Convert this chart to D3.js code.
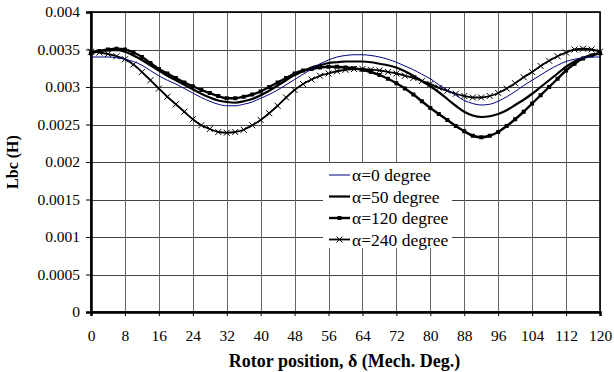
<!DOCTYPE html>
<html>
<head>
<meta charset="utf-8">
<script src="https://cdn.jsdelivr.net/npm/d3@7"></script>
<style>
  body { margin: 0; background: #fff; }
</style>
</head>
<body>
<script>
// rotor position, every 2 mech. degrees
const positions = d3.range(0, 121, 2)

const alpha0 = [
  0.00340, 0.00340, 0.00340, 0.00339, 0.00337, 0.00334, 0.00329, 0.00322, 0.00315, 0.00309,
  0.00304, 0.00298, 0.00292, 0.00286, 0.00281, 0.00277, 0.00275, 0.00275, 0.00277, 0.00280,
  0.00285, 0.00290, 0.00296, 0.00303, 0.00310, 0.00317, 0.00324, 0.00331, 0.00336, 0.00340,
  0.00342, 0.00343, 0.00343, 0.00342, 0.00340, 0.00337, 0.00333, 0.00328, 0.00323, 0.00317,
  0.00311, 0.00303, 0.00296, 0.00289, 0.00282, 0.00278, 0.00276, 0.00277, 0.00281, 0.00287,
  0.00294, 0.00302, 0.00309, 0.00316, 0.00323, 0.00329, 0.00334, 0.00337, 0.00339, 0.00340,
  0.00340
]
const alpha50 = [
  0.00346, 0.00348, 0.00349, 0.00349, 0.00347, 0.00342, 0.00336, 0.00329, 0.00322, 0.00315,
  0.00309, 0.00303, 0.00297, 0.00291, 0.00286, 0.00282, 0.00280, 0.00279, 0.00281, 0.00284,
  0.00289, 0.00295, 0.00302, 0.00309, 0.00316, 0.00321, 0.00326, 0.00329, 0.00332, 0.00333,
  0.00334, 0.00334, 0.00334, 0.00333, 0.00331, 0.00329, 0.00326, 0.00321, 0.00315, 0.00308,
  0.00301, 0.00293, 0.00284, 0.00275, 0.00267, 0.00262, 0.00260, 0.00261, 0.00264, 0.00269,
  0.00276, 0.00283, 0.00291, 0.00300, 0.00309, 0.00318, 0.00327, 0.00334, 0.00339, 0.00343,
  0.00345
]
const alpha120 = [
  0.00345, 0.00348, 0.00350, 0.00351, 0.00350, 0.00346, 0.00340, 0.00332, 0.00324, 0.00318,
  0.00312, 0.00306, 0.00301, 0.00296, 0.00292, 0.00288, 0.00285, 0.00285, 0.00287, 0.00290,
  0.00294, 0.00300, 0.00306, 0.00312, 0.00318, 0.00322, 0.00324, 0.00326, 0.00327, 0.00327,
  0.00326, 0.00325, 0.00323, 0.00320, 0.00316, 0.00311, 0.00305, 0.00298, 0.00290, 0.00281,
  0.00272, 0.00264, 0.00256, 0.00248, 0.00241, 0.00235, 0.00233, 0.00235, 0.00240, 0.00248,
  0.00257, 0.00267, 0.00278, 0.00289, 0.00300, 0.00311, 0.00322, 0.00331, 0.00338, 0.00342,
  0.00345
]
const alpha240 = [
  0.00347, 0.00346, 0.00344, 0.00341, 0.00337, 0.00330, 0.00320, 0.00309, 0.00298, 0.00287,
  0.00277, 0.00267, 0.00257, 0.00249, 0.00244, 0.00240, 0.00239, 0.00240, 0.00243, 0.00249,
  0.00256, 0.00265, 0.00275, 0.00286, 0.00296, 0.00304, 0.00310, 0.00315, 0.00318, 0.00321,
  0.00323, 0.00324, 0.00324, 0.00323, 0.00322, 0.00320, 0.00318, 0.00315, 0.00312, 0.00308,
  0.00304, 0.00299, 0.00295, 0.00291, 0.00288, 0.00286, 0.00286, 0.00288, 0.00292, 0.00298,
  0.00305, 0.00313, 0.00320, 0.00328, 0.00335, 0.00341, 0.00346, 0.00350, 0.00351, 0.00350,
  0.00347
]

const seriesNames = ['α=0 degree', 'α=50 degree', 'α=120 degree', 'α=240 degree']
const xTicks = d3.range(0, 121, 8)
const yTicks = [0, 0.0005, 0.001, 0.0015, 0.002, 0.0025, 0.003, 0.0035, 0.004]

const series = [
  { name: seriesNames[0], values: alpha0, color: '#000080', width: 1, marker: null },
  { name: seriesNames[1], values: alpha50, color: '#000', width: 2.2, marker: null },
  { name: seriesNames[2], values: alpha120, color: '#000', width: 2.4, marker: 'square' },
  { name: seriesNames[3], values: alpha240, color: '#000', width: 1.8, marker: 'cross' }
]

const fontStack = '"Liberation Serif", "Times New Roman", Times, "DejaVu Serif", serif'

const outerWidth = 614
const outerHeight = 372
const margin = { left: 91, top: 12, right: 14, bottom: 60 }
const innerWidth = outerWidth - margin.left - margin.right
const innerHeight = outerHeight - margin.top - margin.bottom

const svg = d3.select('body')
  .append('svg')
  .attr('width', outerWidth)
  .attr('height', outerHeight)
  .attr('font-family', fontStack)

const g = svg.append('g')
  .attr('transform', `translate(${margin.left},${margin.top})`)

const xScale = d3.scaleLinear().domain([0, 120]).range([0, innerWidth])
const yScale = d3.scaleLinear().domain([0, 0.004]).range([innerHeight, 0])

// grid
g.append('g')
  .selectAll('line')
  .data(yTicks)
  .join('line')
  .attr('x1', 0)
  .attr('x2', innerWidth)
  .attr('y1', d => Math.round(yScale(d)) + 0.5)
  .attr('y2', d => Math.round(yScale(d)) + 0.5)
  .style('stroke', '#444')
  .style('stroke-width', 1)

g.append('g')
  .selectAll('line')
  .data(xTicks)
  .join('line')
  .attr('x1', d => Math.round(xScale(d)) + 0.5)
  .attr('x2', d => Math.round(xScale(d)) + 0.5)
  .attr('y1', 0)
  .attr('y2', innerHeight)
  .style('stroke', '#666')
  .style('stroke-width', 1)

// legend background sits over the grid
const legendX = 232
const legendY = 151
g.append('rect')
  .attr('x', legendX)
  .attr('y', legendY)
  .attr('width', 129)
  .attr('height', 85)
  .style('fill', '#fff')

// border
g.append('rect')
  .attr('x', 0)
  .attr('y', 0)
  .attr('width', innerWidth)
  .attr('height', innerHeight)
  .style('fill', 'none')
  .style('stroke', '#000')
  .style('stroke-width', 1.6)

// axes
const xAxis = d3.axisBottom(xScale).tickValues(xTicks).tickSize(4).tickPadding(14)
const yAxis = d3.axisLeft(yScale).tickValues(yTicks).tickSize(5).tickPadding(6)
  .tickFormat(d => d === 0 ? '0' : String(+d.toFixed(4)))

const xAxisG = g.append('g')
  .attr('transform', `translate(0,${innerHeight})`)
  .call(xAxis)
const yAxisG = g.append('g').call(yAxis)

;[xAxisG, yAxisG].forEach(a => {
  a.attr('font-family', fontStack).attr('font-size', 15.5)
  a.select('.domain').style('stroke', '#000').style('stroke-width', 2.5)
  a.selectAll('.tick line').style('stroke', '#000')
  a.selectAll('.tick text').style('fill', '#000')
})

// axis titles
g.append('text')
  .attr('x', innerWidth / 2 - 1)
  .attr('y', innerHeight + 55)
  .attr('text-anchor', 'middle')
  .attr('font-size', 18)
  .attr('font-weight', 'bold')
  .text('Rotor position, δ (Mech. Deg.)')

svg.append('text')
  .attr('transform', 'translate(18,162) rotate(-90)')
  .attr('text-anchor', 'middle')
  .attr('font-size', 16)
  .attr('font-weight', 'bold')
  .text('Lbc (H)')

// lines
const line = d3.line()
  .x((d, i) => xScale(positions[i]))
  .y(d => yScale(d))
  .curve(d3.curveMonotoneX)

const crossPath = 'M-3,-3L3,3M-3,3L3,-3'

function drawMarkers(sel, marker, pts) {
  if (marker === 'square') {
    sel.selectAll('rect')
      .data(pts)
      .join('rect')
      .attr('x', d => d[0] - 2)
      .attr('y', d => d[1] - 2)
      .attr('width', 4)
      .attr('height', 4)
      .style('fill', '#000')
  } else if (marker === 'cross') {
    sel.selectAll('path')
      .data(pts)
      .join('path')
      .attr('transform', d => `translate(${d[0]},${d[1]})`)
      .attr('d', crossPath)
      .style('stroke', '#000')
      .style('stroke-width', 1)
      .style('fill', 'none')
  }
}

series.slice().reverse().forEach(s => {
  g.append('path')
    .datum(s.values)
    .attr('d', line)
    .style('fill', 'none')
    .style('stroke', s.color)
    .style('stroke-width', s.width)
  const pts = s.values.map((v, i) => [xScale(positions[i]), yScale(v)])
  drawMarkers(g.append('g'), s.marker, pts)
})

// legend
const legend = g.append('g')
  .attr('transform', `translate(${legendX},${legendY})`)

series.forEach((s, i) => {
  const row = legend.append('g')
    .attr('transform', `translate(0,${12 + i * 21.5})`)
  row.append('line')
    .attr('x1', 6)
    .attr('x2', 27)
    .attr('y1', 0)
    .attr('y2', 0)
    .style('stroke', s.color)
    .style('stroke-width', s.width)
  drawMarkers(row.append('g'), s.marker, [[16.5, 0]])
  row.append('text')
    .attr('x', 29)
    .attr('y', 6)
    .attr('font-size', 17.5)
    .text(s.name)
})
</script>
</body>
</html>
